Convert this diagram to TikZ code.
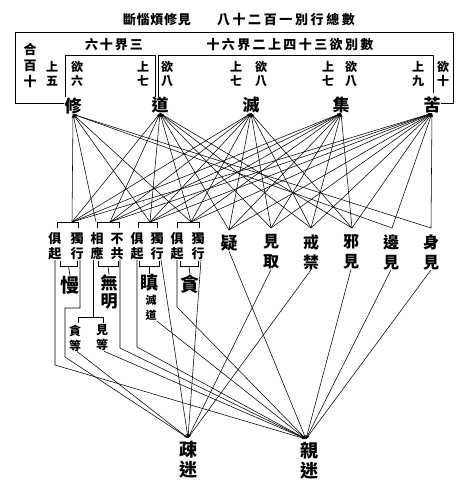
\documentclass[tikz,border=0pt]{standalone}
\usepackage{fontspec}
\setmainfont{Noto Sans CJK TC}
\usetikzlibrary{arrows.meta}
\newcommand\myfs[2]{\fontsize{#1}{#2}\selectfont\bfseries}
\begin{document}
\begin{tikzpicture}[x=1pt,y=-1pt,
  ln/.style={line width=0.65pt},
  fan/.style={line width=0.55pt,-{Stealth[length=4pt,width=2.4pt]}},
  low/.style={line width=0.55pt,-{Stealth[length=4pt,width=2.4pt]}},
  lbl/.style={inner sep=0pt,align=center},
  ttl/.style={lbl,font=\myfs{13}{14}},
  stk/.style={lbl,font=\myfs{12}{14}},
  truth/.style={lbl,font=\myfs{17}{17}},
  pair/.style={lbl,font=\myfs{13}{15}},
  item/.style={lbl,font=\myfs{16}{20}},
  main/.style={lbl,font=\myfs{19}{19}},
  small/.style={lbl,font=\myfs{11}{15}},
  sub/.style={lbl,font=\myfs{12}{15}},
  fin/.style={lbl,font=\myfs{18}{20}}]
\useasboundingbox (0,0) rectangle (462,488);
% titles
\node[ttl] (t1) at (157,20) {\makebox[68pt][s]{斷\hfill 惱\hfill 煩\hfill 修\hfill 見}};
\node[ttl] (t2) at (286,20) {\makebox[138pt][s]{八\hfill 十\hfill 二\hfill 百\hfill 一\hfill 別\hfill 行\hfill 總\hfill 數}};
\node[ttl] (s1) at (114,45) {\makebox[58pt][s]{六\hfill 十\hfill 界\hfill 三}};
\node[ttl] (s2) at (290,45) {\makebox[167pt][s]{十\hfill 六\hfill 界\hfill 二\hfill 上\hfill 四\hfill 十\hfill 三\hfill 欲\hfill 別\hfill 數}};
% count labels
\node[lbl,font=\myfs{13}{16}] (h) at (30,66) {合\\百\\十};
\node[stk] (n1) at (52,74) {上\\五};
\node[stk] (n2) at (77,74) {欲\\六};
\node[stk] (n3) at (143,74) {上\\七};
\node[stk] (n4) at (167,74) {欲\\八};
\node[stk] (n5) at (236,74) {上\\七};
\node[stk] (n6) at (261,74) {欲\\八};
\node[stk] (n7) at (328,74) {上\\七};
\node[stk] (n8) at (351,74) {欲\\八};
\node[stk] (n9) at (418,74) {上\\九};
\node[stk] (n10) at (443,74) {欲\\十};
% truths
\node[truth] (xiu) at (73,106) {修};
\node[truth] (dao) at (160,105) {道};
\node[truth] (mie) at (251,105) {滅};
\node[truth] (ji) at (341,105) {集};
\node[truth] (ku) at (432,105) {苦};
% frames
\draw[ln] ([yshift=3pt]xiu.west) -- (15,103) -- (15,32) -- (453,32) -- (453,103) -- ([yshift=2pt]ku.east);
\draw[ln] (65,97) -- (65,55) -- (155,55) -- (155,97);
\draw[ln] (158,97) -- (158,55) -- (433,55) -- (433,93);
% items
\node[pair] (p1a) at (55,246) {俱\\起};
\node[pair] (p1b) at (77,246) {獨\\行};
\node[pair] (p2a) at (97,246) {相\\應};
\node[pair] (p2b) at (117,246) {不\\共};
\node[pair] (p3a) at (137,246) {俱\\起};
\node[pair] (p3b) at (157,246) {獨\\行};
\node[pair] (p4a) at (177,246) {俱\\起};
\node[pair] (p4b) at (198,246) {獨\\行};
\node[lbl,font=\myfs{17}{17}] (yi) at (229,243) {疑};
\node[item] (jq) at (271,252) {見\\取};
\node[item] (jj) at (311,252) {戒\\禁};
\node[item] (xj) at (351,252) {邪\\見};
\node[item] (bj) at (391,252) {邊\\見};
\node[item] (sj) at (431,252) {身\\見};
\node[main] (man) at (70,285) {慢};
\node[lbl,font=\myfs{17}{18}] (wm) at (109,292) {無\\明};
\node[lbl,font=\myfs{18}{18}] (chen) at (149,283) {瞋};
\node[small] (md) at (151,308) {滅\\道};
\node[main] (tan) at (190,284) {貪};
\node[sub] (td) at (75,338) {貪\\等};
\node[sub] (jd) at (102,338) {見\\等};
\node[fin] (su) at (188,460) {疎\\迷};
\node[fin] (qi) at (309,461) {親\\迷};
% convergence points
\coordinate (cM) at (72,222);
\coordinate (cW) at (110,222);
\coordinate (cWL) at (96,222);
\coordinate (cC) at (150,222);
\coordinate (cT) at (191,222);
\coordinate (cY) at (229,230);
\coordinate (cJQ) at (271,228);
\coordinate (cJJ) at (311,228);
\coordinate (cX) at (352,228);
\coordinate (cB) at (392,228);
\coordinate (cS) at (431,228);
\coordinate (cSU) at (188,438);
\coordinate (cQI) at (306,439);
% brackets above pairs
\draw[ln] (57,228) |- (78,222) -- (78,228);
\draw[ln] (97,228) |- (119,222) -- (119,228);
\draw[ln] (138,228) |- (157,222) -- (157,228);
\draw[ln] (177,228) |- (199,222) -- (199,228);
% brackets below pairs
\draw[ln] (60,261) |- (77,266) -- (77,261);
\draw[ln] (68.5,266) -- (man.north);
\draw[ln] (98,261) |- (118,266) -- (118,261);
\draw[ln] (108,266) -- (wm.north);
\draw[ln] (139,261) |- (159,266) -- (159,261);
\draw[ln] (149,266) -- (chen.north);
\draw[ln] (180,261) |- (198,266) -- (198,261);
\draw[ln] (189,266) -- (tan.north);
% fan lines
\foreach \c in {cM,cWL,cC,cT,cB,cS} \draw[fan] (\c) -- (xiu.south);
\foreach \c in {cM,cW,cC,cT,cY,cJQ,cJJ,cX} \draw[fan] (\c) -- (dao.south);
\foreach \c in {cM,cW,cC,cT,cY,cJQ,cJJ,cX} \draw[fan] (\c) -- (mie.south);
\foreach \c in {cM,cW,cC,cT,cY,cJQ,cJJ,cX} \draw[fan] (\c) -- (ji.south);
\foreach \c in {cM,cW,cC,cT,cY,cJQ,cJJ,cX,cB,cS} \draw[fan] (\c) -- (ku.south);
% leaders to su / qi
\draw[low] (p1a.south) -- (55,365) -- (cQI);
\draw[low] ([xshift=3pt]p1b.south) -- (80,308) -- (65,308) -- (65,357) -- (cSU);
\draw[ln] ([xshift=-4pt]p2a.south) -- (93,317);
\draw[ln] (78,323) |- (103,317) -- (103,323);
\draw[low] ([xshift=2pt]td.south) -- (cSU);
\draw[low] ([xshift=2pt]jd.south) -- (cQI);
\draw[low] ([xshift=3pt]p2b.south) -- (120,348) -- (cQI);
\draw[low] (p3a.south) -- (137,347) -- (cQI);
\draw[low] ([xshift=4pt]p3b.south) -- (cSU);
\draw[low] (md.south east) -- (cQI);
\draw[low] (p4a.south) -- (177,307) -- (cQI);
\draw[low] ([xshift=3pt]p4b.south) -- (cSU);
\draw[low] (yi.south) -- (cQI);
\draw[low] (jq.south) -- (cSU);
\draw[low] (jj.south) -- (cSU);
\draw[low] (xj.south) -- (cQI);
\draw[low] (bj.south) -- (cQI);
\draw[low] (sj.south) -- (cQI);
\end{tikzpicture}
\end{document}
